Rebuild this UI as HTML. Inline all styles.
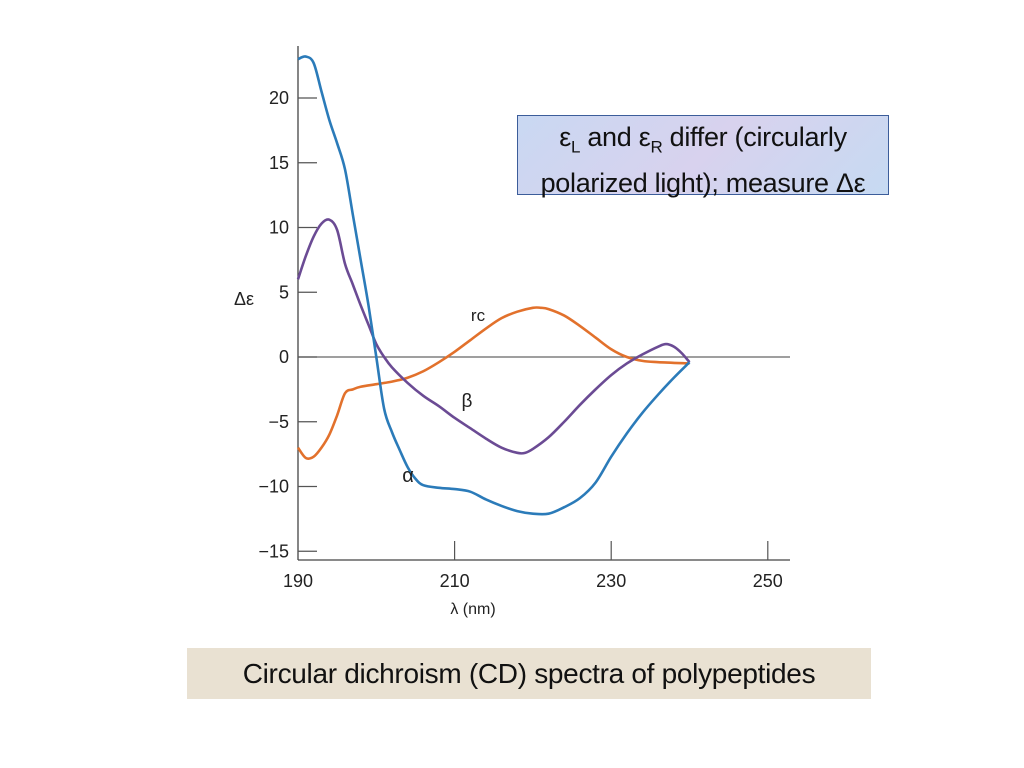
<!DOCTYPE html>
<html><head><meta charset="utf-8"><style>
body{margin:0;width:1024px;height:768px;background:#fff;overflow:hidden;position:relative;font-family:"Liberation Sans",sans-serif}
#note{position:absolute;left:517px;top:115px;width:372px;height:80px;border:1px solid #3c5d9a;background:linear-gradient(135deg,#c9d8f2,#d8d2ee 50%,#c6daf2);font-size:27px;line-height:37px;text-align:center;color:#111;padding-top:3px;box-sizing:border-box;letter-spacing:-0.3px;white-space:nowrap}
#cap{position:absolute;left:187px;top:648px;width:684px;height:51px;background:#e9e1d2;font-size:28px;line-height:51px;text-align:center;color:#111;letter-spacing:-0.3px}
</style></head><body>
<svg id="chart" width="1024" height="768" style="position:absolute;left:0;top:0" font-family="Liberation Sans, sans-serif"></svg>
<div id="note">ε<sub style="font-size:17px">L</sub> and ε<sub style="font-size:17px">R</sub> differ (circularly<br>polarized light); measure Δε</div>
<div id="cap">Circular dichroism (CD) spectra of polypeptides</div>
<script>
const xTicks=[190,210,230,250];
const yTicks=[20,15,10,5,0,-5,-10,-15];
const alphaX=[190,191,192,193,194,195,196,197,198,199,200,201,202,203,204,205,206,208,210,212,214,216,218,220,222,224,226,228,230,232,234,236,238,240];
const alphaY=[23,23.2,22.7,20.5,18.3,16.5,14.5,11,7.5,4,0,-4,-5.8,-7.2,-8.5,-9.4,-9.9,-10.1,-10.2,-10.4,-11,-11.5,-11.9,-12.1,-12.1,-11.6,-10.9,-9.7,-7.7,-5.9,-4.3,-2.9,-1.6,-0.4];
const betaX=[190,191,192,193,194,195,196,197,198,199,200,201,202,204,206,208,210,212,214,216,218,219,220,222,224,226,228,230,232,234,236,237,238,239,240];
const betaY=[6,7.8,9.3,10.3,10.6,9.8,7.2,5.6,4,2.5,1,0,-0.8,-2,-3,-3.8,-4.7,-5.5,-6.3,-7,-7.4,-7.4,-7.1,-6.2,-5,-3.7,-2.5,-1.4,-0.5,0.2,0.8,1,0.8,0.3,-0.4];
const rcX=[190,191,192,193,194,195,196,197,198,200,202,204,206,208,210,212,214,216,218,220,221,222,224,226,228,230,232,234,236,240];
const rcY=[-7,-7.8,-7.7,-7,-6,-4.5,-2.8,-2.5,-2.3,-2.1,-1.9,-1.6,-1.1,-0.4,0.4,1.3,2.2,3,3.5,3.8,3.8,3.7,3.2,2.4,1.5,0.6,0,-0.3,-0.4,-0.5];
const X=v=>298+(v-190)*7.83, Y=v=>357-v*12.95;
const svg=document.getElementById('chart'),NS='http://www.w3.org/2000/svg';
function mk(t,a,p){const e=document.createElementNS(NS,t);for(const k in a)e.setAttribute(k,a[k]);(p||svg).appendChild(e);return e;}
let e;
e=mk('line',{x1:298,y1:46,x2:298,y2:560,stroke:'#444','stroke-width':1.3});


e=mk('line',{x1:298,y1:560,x2:790,y2:560,stroke:'#444','stroke-width':1.3});


e=mk('line',{x1:298,y1:Y(0),x2:790,y2:Y(0),stroke:'#666','stroke-width':1.2});


yTicks.forEach(v=>{
 e=mk('line',{x1:298,y1:Y(v),x2:317,y2:Y(v),stroke:'#555','stroke-width':1.2});
 
 
 e=mk('text',{x:289,y:Y(v)+6,'text-anchor':'end','font-size':18,fill:'#222'});
 e.textContent=(v<0?'\u2212'+(-v):v);
 
 
});
xTicks.forEach(v=>{
 if(v>190){e=mk('line',{x1:X(v),y1:541,x2:X(v),y2:560,stroke:'#555','stroke-width':1.2});
 
 }
 e=mk('text',{x:X(v),y:587,'text-anchor':'middle','font-size':18,fill:'#222'});
 e.textContent=v;
 
 
});
e=mk('text',{x:473,y:614,'text-anchor':'middle','font-size':16,fill:'#222'});e.textContent='λ (nm)';


e=mk('text',{x:244,y:305,'text-anchor':'middle','font-size':18,fill:'#222'});e.textContent='Δε';


function path(xs,ys){const p=xs.map((x,i)=>[X(x),Y(ys[i])]);let d='M'+p[0];
 for(let i=0;i<p.length-1;i++){const a=p[i-1]||p[i],b=p[i],c=p[i+1],n=p[i+2]||c;
 d+=` C${b[0]+(c[0]-a[0])/6},${b[1]+(c[1]-a[1])/6} ${c[0]-(n[0]-b[0])/6},${c[1]-(n[1]-b[1])/6} ${c[0]},${c[1]}`;}return d;}
e=mk('path',{d:path(rcX,rcY),fill:'none',stroke:'#e2712c','stroke-width':2.6});


e=mk('path',{d:path(betaX,betaY),fill:'none',stroke:'#6b4b94','stroke-width':2.6});


e=mk('path',{d:path(alphaX,alphaY),fill:'none',stroke:'#2b7bb9','stroke-width':2.6});


[['rc',478,321,'rc-label',17],['β',467,407,'beta-label',19],['α',408,482,'alpha-label',20]].forEach(l=>{
 e=mk('text',{x:l[1],y:l[2],'text-anchor':'middle','font-size':l[4],fill:'#222'});e.textContent=l[0];
 
 
});
</script>
</body></html>
